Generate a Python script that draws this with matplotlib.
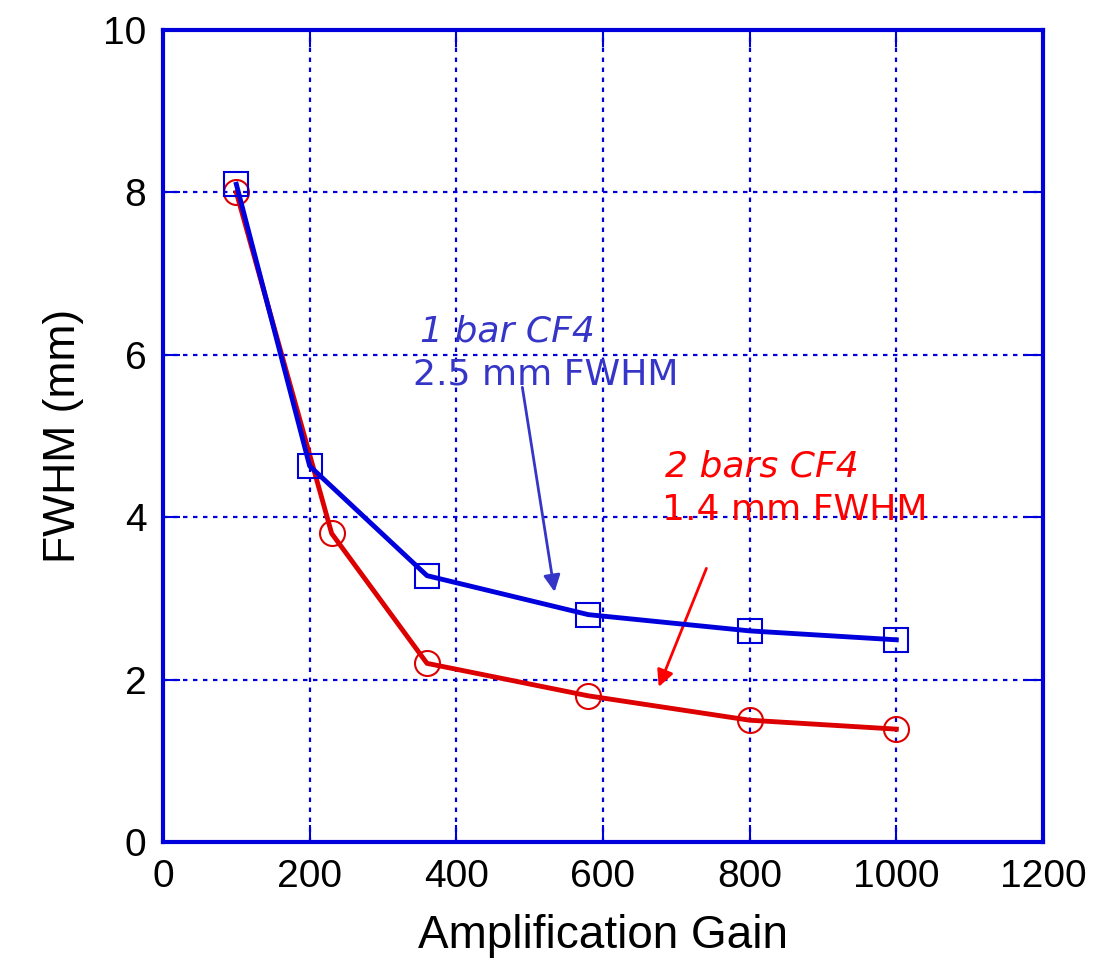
import matplotlib
matplotlib.use("Agg")
import matplotlib.pyplot as plt

gain_1bar = [100, 200, 360, 580, 800, 1000]
fwhm_1bar = [8.1, 4.63, 3.28, 2.8, 2.6, 2.49]
gain_2bar = [100, 230, 360, 580, 800, 1000]
fwhm_2bar = [8.0, 3.8, 2.2, 1.8, 1.5, 1.39]
xticks = [0, 200, 400, 600, 800, 1000, 1200]
yticks = [0, 2, 4, 6, 8, 10]

BLUE = "#0000dd"
RED = "#dd0000"
TBLUE = "#3535c8"
TRED = "#ff0000"

plt.rcParams['font.family'] = ['Liberation Sans', 'DejaVu Sans']

fig = plt.figure(figsize=(10.96, 9.66), dpi=100)
ax = fig.add_axes([163/1096, 124/966, 880/1096, 812/966])

ax.plot(gain_1bar, fwhm_1bar, color=BLUE, lw=3.5, marker='s', ms=17,
        mfc='none', mec=BLUE, mew=1.5, zorder=4)
ax.plot(gain_2bar, fwhm_2bar, color=RED, lw=3.5, marker='o', ms=18,
        mfc='none', mec=RED, mew=1.5, zorder=3)

ax.set_xlim(0, 1200)
ax.set_ylim(0, 10)
ax.set_xticks(xticks)
ax.set_yticks(yticks)
ax.grid(True, color=BLUE, linestyle=(0, (2, 2.5)), lw=1.6)
ax.set_axisbelow(True)
for s in ax.spines.values():
    s.set_color(BLUE)
    s.set_linewidth(3)
ax.tick_params(direction='in', length=12, width=1.5, color=BLUE,
               top=True, right=True, labelsize=28, pad=12)
ax.set_xlabel("Amplification Gain", fontsize=33, labelpad=14)
ax.set_ylabel("FWHM (mm)", fontsize=32, labelpad=14)

tf = dict(family=['DejaVu Sans'], fontsize=26)
ax.text(350, 6.16, "1 bar CF4", color=TBLUE, style='italic', **tf)
ax.text(341, 5.63, "2.5 mm FWHM", color=TBLUE, **tf)
ax.text(684, 4.5, "2 bars CF4", color=TRED, style='italic', **tf)
ax.text(680, 3.97, "1.4 mm FWHM", color=TRED, **tf)

ax.annotate("", xy=(534, 3.08), xytext=(490, 5.6),
            arrowprops=dict(arrowstyle='-|>', color=TBLUE, lw=2,
                            mutation_scale=25, shrinkA=0, shrinkB=0))
ax.annotate("", xy=(676, 1.91), xytext=(741, 3.37),
            arrowprops=dict(arrowstyle='-|>', color=TRED, lw=2,
                            mutation_scale=25, shrinkA=0, shrinkB=0))

fig.savefig("out.png", dpi=100)
